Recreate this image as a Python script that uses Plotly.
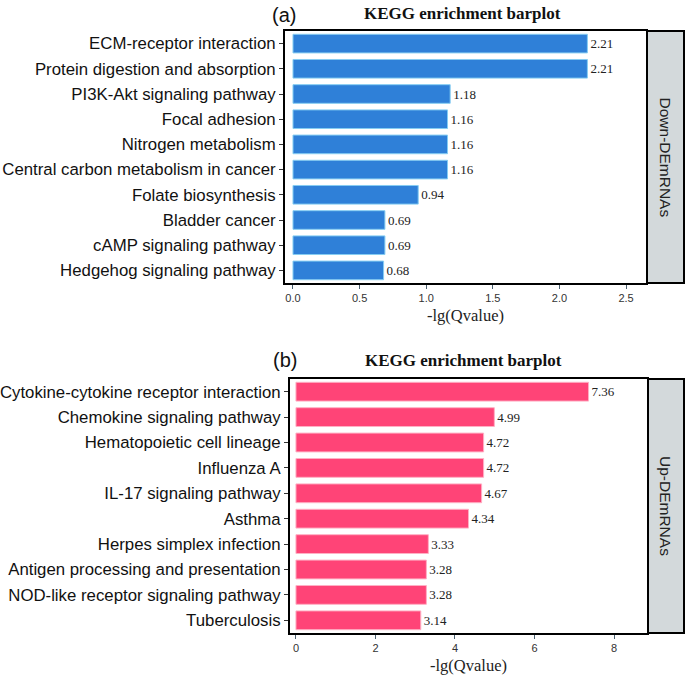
import plotly.graph_objects as go

down_terms = ["ECM-receptor interaction", "Protein digestion and absorption", "PI3K-Akt signaling pathway",
              "Focal adhesion", "Nitrogen metabolism", "Central carbon metabolism in cancer",
              "Folate biosynthesis", "Bladder cancer", "cAMP signaling pathway", "Hedgehog signaling pathway"]
down_vals = [2.21, 2.21, 1.18, 1.16, 1.16, 1.16, 0.94, 0.69, 0.69, 0.68]

up_terms = ["Cytokine-cytokine receptor interaction", "Chemokine signaling pathway", "Hematopoietic cell lineage",
            "Influenza A", "IL-17 signaling pathway", "Asthma", "Herpes simplex infection",
            "Antigen processing and presentation", "NOD-like receptor signaling pathway", "Tuberculosis"]
up_vals = [7.36, 4.99, 4.72, 4.72, 4.67, 4.34, 3.33, 3.28, 3.28, 3.14]

W, H = 685, 676
def px(x): return x / W
def py(y): return 1 - y / H

sans = "Liberation Sans, Arial, sans-serif"
serif = "Liberation Serif, Times New Roman, serif"

fig = go.Figure()
fig.add_trace(go.Bar(x=down_vals, y=down_terms, orientation="h", width=0.74,
                     marker=dict(color="#2f80d8", line=dict(color="#86cdf2", width=1)),
                     text=[f"{v:.2f}" for v in down_vals], textposition="outside",
                     textfont=dict(family=serif, size=13, color="#222"),
                     cliponaxis=False, xaxis="x", yaxis="y", showlegend=False))
fig.add_trace(go.Bar(x=up_vals, y=up_terms, orientation="h", width=0.74,
                     marker=dict(color="#ff4477", line=dict(color="#ffb0c4", width=1)),
                     text=[f"{v:.2f}" for v in up_vals], textposition="outside",
                     textfont=dict(family=serif, size=13, color="#222"),
                     cliponaxis=False, xaxis="x2", yaxis="y2", showlegend=False))

common_x = dict(showline=True, mirror=True, linecolor="black", linewidth=2, showgrid=False,
                zeroline=False, ticks="outside", ticklen=4, tickcolor="#4a6070",
                tickfont=dict(family=sans, size=11, color="#333"),
                title=dict(text="-lg(Qvalue)", font=dict(family=serif, size=16.5, color="#222"), standoff=6))
common_y = dict(showline=True, mirror=True, linecolor="black", linewidth=2, showgrid=False,
                zeroline=False, ticks="outside", ticklen=4, tickcolor="#333",
                tickfont=dict(family=sans, size=16.8, color="#111"), autorange="reversed")

fig.update_layout(
    width=W, height=H, margin=dict(l=0, r=0, t=0, b=0),
    paper_bgcolor="white", plot_bgcolor="white", bargap=0.26,
    xaxis=dict(domain=[px(285), px(646)], range=[-0.06, 2.65], anchor="y",
               tickvals=[0, 0.5, 1, 1.5, 2, 2.5], ticktext=["0.0", "0.5", "1.0", "1.5", "2.0", "2.5"], **common_x),
    yaxis=dict(domain=[py(283), py(31)], anchor="x", **common_y),
    xaxis2=dict(domain=[px(290), px(647)], range=[-0.15, 8.83], anchor="y2",
                tickvals=[0, 2, 4, 6, 8], **common_x),
    yaxis2=dict(domain=[py(633), py(379)], anchor="x2", **common_y),
)

# strips
for (x0, x1, y0, y1, label) in [(647, 684, 31, 283, "Down-DEmRNAs"), (648, 684, 379, 633, "Up-DEmRNAs")]:
    fig.add_shape(type="rect", xref="paper", yref="paper", x0=px(x0), x1=px(x1), y0=py(y1), y1=py(y0),
                  fillcolor="#d3d9db", line=dict(color="black", width=2))
    fig.add_annotation(xref="paper", yref="paper", x=px((x0 + x1) / 2), y=py((y0 + y1) / 2),
                       xanchor="center", yanchor="middle",
                       text=label, textangle=90, showarrow=False,
                       font=dict(family=sans, size=15.5, color="#222"))

# titles
for (lx, ly, tx, ty, lab) in [(284, 15, 462, 13, "(a)"), (285, 360, 463, 360, "(b)")]:
    fig.add_annotation(xref="paper", yref="paper", x=px(lx), y=py(ly), text=lab, showarrow=False,
                       xanchor="center", yanchor="middle",
                       font=dict(family=sans, size=20, color="#111"))
    fig.add_annotation(xref="paper", yref="paper", x=px(tx), y=py(ty), text="<b>KEGG enrichment barplot</b>",
                       xanchor="center", yanchor="middle",
                       showarrow=False, font=dict(family=serif, size=17, color="#111"))

fig.write_html("out.html", config={"displayModeBar": False},
               post_script="document.body.style.margin='0px';")
